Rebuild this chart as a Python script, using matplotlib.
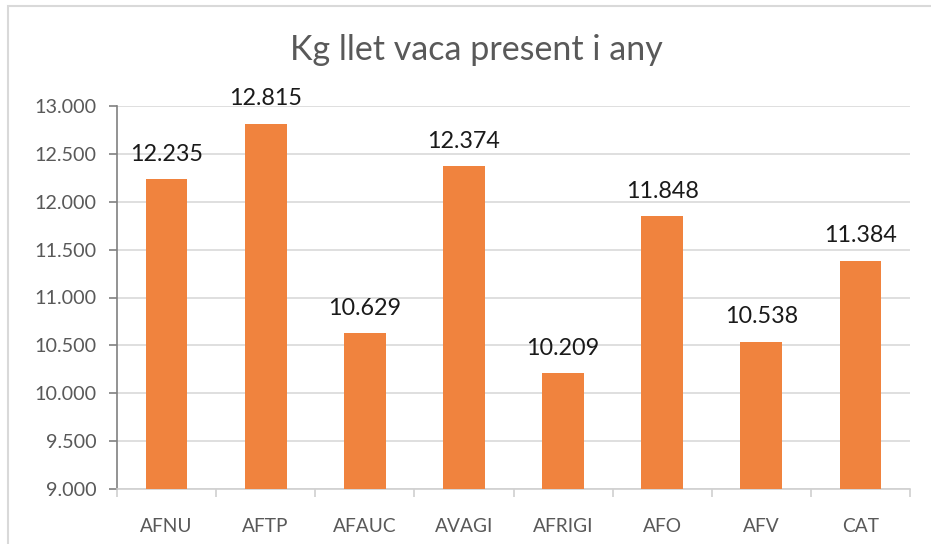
import matplotlib.pyplot as plt
from matplotlib.patches import Rectangle
from matplotlib.ticker import FuncFormatter, MultipleLocator

regions = ["AFNU", "AFTP", "AFAUC", "AVAGI", "AFRIGI", "AFO", "AFV", "CAT"]
kg_milk = [12235, 12815, 10629, 12374, 10209, 11848, 10538, 11384]

plt.rcParams['font.family'] = ['Lato', 'DejaVu Sans']

fig = plt.figure(figsize=(9.31, 5.44), dpi=100)
fig.patches.append(Rectangle((8 / 931, -0.1), 1.2, 1 - 6 / 544 + 0.1,
                             transform=fig.transFigure, fill=False,
                             edgecolor="#d9d9d9", linewidth=1.5))
ax = fig.add_axes([117 / 931, 1 - 489 / 544, (910 - 117) / 931, (489 - 106) / 544])

x = range(len(regions))
bars = ax.bar(x, kg_milk, width=0.42, color="#f0833e", zorder=3)
for i, v in enumerate(kg_milk):
    ax.text(i, v + 150, f"{v / 1000:.3f}", ha="center", va="bottom",
            fontsize=16.8, color="#1a1a1a")

ax.set_ylim(9000, 13000)
ax.set_xlim(-0.5, len(regions) - 0.5)
ax.yaxis.set_major_locator(MultipleLocator(500))
ax.yaxis.set_major_formatter(FuncFormatter(lambda v, p: f"{v / 1000:.3f}"))
ax.grid(axis="y", color="#d9d9d9", linewidth=1.2, zorder=0)

ax.set_xticks(list(x))
ax.set_xticklabels(regions)
ax.set_xticks([i - 0.5 for i in range(len(regions) + 1)], minor=True)
ax.tick_params(axis="x", which="major", length=0, pad=21, labelsize=13.8, labelcolor="#595959")
ax.tick_params(axis="x", which="minor", length=6, color="#d0d0d0", width=1.2)
ax.tick_params(axis="y", length=6, color="#808080", width=1.2, labelsize=14.2,
               labelcolor="#595959", pad=9)

for s in ["top", "right"]:
    ax.spines[s].set_visible(False)
ax.spines["left"].set_color("#808080")
ax.spines["left"].set_linewidth(1.2)
ax.spines["bottom"].set_color("#d0d0d0")
ax.spines["bottom"].set_linewidth(1.2)

fig.text(476 / 931, 1 - 50 / 544, "Kg llet vaca present i any", ha="center", va="center",
         fontsize=24.5, color="#595959")

fig.savefig("out.png", dpi=100)
